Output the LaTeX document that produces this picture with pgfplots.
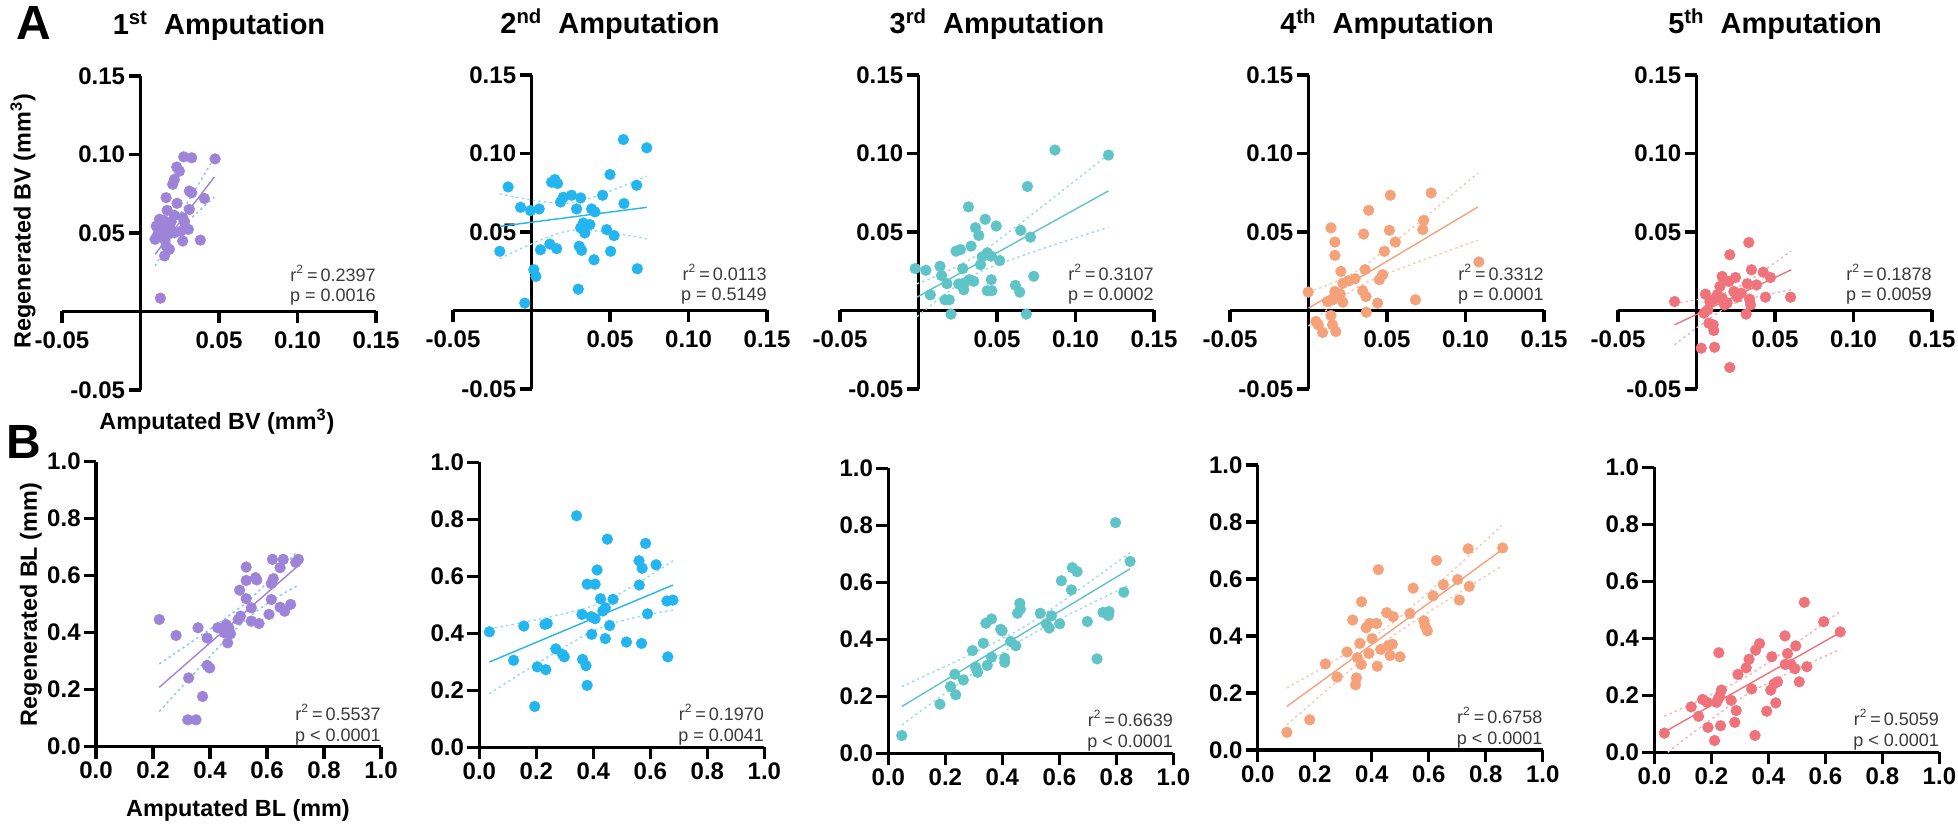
\documentclass[border=0pt]{standalone}
\usepackage{fontspec}
\setmainfont{Liberation Sans}
\usepackage{pgfplots}
\pgfplotsset{compat=1.18}

\definecolor{cpurple}{HTML}{9E84D8}
\definecolor{cblue}{HTML}{22B5F0}
\definecolor{cteal}{HTML}{5EC4C8}
\definecolor{corange}{HTML}{F5A27A}
\definecolor{cred}{HTML}{F0727A}
\definecolor{cilight}{HTML}{8CC4F2}
\definecolor{stat}{HTML}{3A3A3A}

\newcommand{\tickfont}{\fontsize{12}{14}\selectfont\bfseries}
\newcommand{\labfont}{\fontsize{11.7}{14}\selectfont\bfseries}
\newcommand{\ttlfont}{\fontsize{14.5}{17}\selectfont\bfseries}
\newcommand{\statfont}{\fontsize{9}{10}\selectfont}

\pgfplotsset{
  base/.style={
    scale only axis, clip=false, enlargelimits=false, anchor=south west,
    axis line style={line width=1.6pt},
    every inner x axis line/.append style={-},
    every inner y axis line/.append style={-},
    every outer x axis line/.append style={-},
    every outer y axis line/.append style={-},
    every tick/.append style={line width=1.6pt, black},
    major tick length=6pt, tick align=outside,
    tick label style={font=\tickfont},
    yticklabel style={inner sep=1.5pt},
  },
  top/.style={axis lines=middle, base,
    xmin=-0.05, xmax=0.15, ymin=-0.05, ymax=0.15, x=785pt, y=785pt,
    xtick={-0.05,0.05,0.1,0.15}, xticklabels={-0.05,0.05,0.10,0.15},
    ytick={-0.05,0.05,0.1,0.15}, yticklabels={-0.05,0.05,0.10,0.15},
    xticklabel style={inner sep=1pt, yshift=-3pt},
  },
  bot/.style={axis lines=left, base,
    xmin=0, xmax=1, ymin=0, ymax=1, x=142.5pt, y=142.5pt,
    xtick={0,0.2,0.4,0.6,0.8,1}, xticklabels={0.0,0.2,0.4,0.6,0.8,1.0},
    ytick={0,0.2,0.4,0.6,0.8,1}, yticklabels={0.0,0.2,0.4,0.6,0.8,1.0},
    xticklabel style={inner sep=1.5pt},
  },
  pts/.style={only marks, mark=*, mark size=2.7pt, color=#1, mark options={solid, draw=#1, fill=#1, line width=0.2pt}},
  fit/.style={no marks, line width=0.7pt, color=#1},
  ci/.style={no marks, smooth, line width=0.7pt, color=#1, dash pattern=on 1.2pt off 1.6pt},
}

\begin{document}
\begin{tikzpicture}
\path[use as bounding box] (0,0) rectangle (979pt,413pt);

% ---------- row A ----------
\begin{axis}[top, at={(31pt,218pt)}]
\addplot[pts=cpurple] coordinates {(0.0127,0.0085) (0.0275,0.0985) (0.0326,0.0979) (0.0475,0.0972) (0.0231,0.0920) (0.0248,0.0894) (0.0216,0.0841) (0.0205,0.0810) (0.0163,0.0725) (0.0311,0.0767) (0.0326,0.0756) (0.0407,0.0720) (0.0233,0.0689) (0.0170,0.0644) (0.0311,0.0650) (0.0121,0.0587) (0.0148,0.0580) (0.0269,0.0597) (0.0216,0.0612) (0.0100,0.0544) (0.0184,0.0540) (0.0280,0.0570) (0.0305,0.0523) (0.0258,0.0512) (0.0127,0.0502) (0.0174,0.0491) (0.0216,0.0502) (0.0093,0.0460) (0.0153,0.0460) (0.0269,0.0449) (0.0381,0.0455) (0.0163,0.0417) (0.0184,0.0396) (0.0153,0.0354) (0.0131,0.0523) (0.0110,0.0491) (0.0195,0.0570)};
\addplot[fit=cpurple] coordinates {(0.0093,0.0364) (0.047,0.0856)};
\addplot[ci=cilight] coordinates {(0.0093,0.044) (0.022,0.057) (0.047,0.098)};
\addplot[ci=cilight] coordinates {(0.0093,0.029) (0.022,0.049) (0.047,0.073)};
\node[anchor=base east, font=\statfont, text=stat, inner sep=0pt, yshift=15pt] at (0.15,0) {r\textsuperscript{2}\,=\,0.2397};
\node[anchor=base east, font=\statfont, text=stat, inner sep=0pt, yshift=5pt] at (0.15,0) {p = 0.0016};
\node[anchor=base, font=\ttlfont, inner sep=0pt, yshift=20.5pt] at (rel axis cs:0.5,1) {1\textsuperscript{st}\ \ Amputation};
\end{axis}

\begin{axis}[top, at={(226.5pt,218.5pt)}]
\addplot[pts=cblue] coordinates {(-0.0043,0.0047) (0.0298,0.0136) (0.0015,0.0260) (0.0028,0.0217) (0.0674,0.0266) (0.0398,0.0323) (-0.0202,0.0377) (0.0057,0.0387) (0.0117,0.0423) (0.0160,0.0394) (0.0304,0.0409) (0.0319,0.0383) (0.0504,0.0377) (0.0526,0.0477) (0.0479,0.0515) (0.0340,0.0494) (0.0313,0.0526) (0.0372,0.0547) (0.0330,0.0557) (-0.0070,0.0657) (-0.0006,0.0636) (0.0049,0.0647) (0.0287,0.0647) (0.0383,0.0647) (0.0404,0.0628) (0.0185,0.0691) (0.0202,0.0721) (0.0255,0.0734) (0.0313,0.0717) (0.0453,0.0734) (0.0589,0.0681) (-0.0149,0.0787) (0.0670,0.0798) (0.0128,0.0817) (0.0149,0.0834) (0.0166,0.0809) (0.0500,0.0866) (0.0585,0.1089) (0.0734,0.1036)};
\addplot[fit=cblue] coordinates {(-0.0202,0.0536) (0.0734,0.0657)};
\addplot[ci=cblue!50] coordinates {(-0.0202,0.0743) (0.025,0.0685) (0.0734,0.0855)};
\addplot[ci=cblue!50] coordinates {(-0.0202,0.0330) (0.025,0.0510) (0.0734,0.0457)};
\node[anchor=base east, font=\statfont, text=stat, inner sep=0pt, yshift=15pt] at (0.15,0) {r\textsuperscript{2}\,=\,0.0113};
\node[anchor=base east, font=\statfont, text=stat, inner sep=0pt, yshift=5pt] at (0.15,0) {p = 0.5149};
\node[anchor=base, font=\ttlfont, inner sep=0pt, yshift=20.5pt] at (rel axis cs:0.5,1) {2\textsuperscript{nd}\ \ Amputation};
\end{axis}

\begin{axis}[top, at={(420pt,218.5pt)}]
\addplot[pts=cteal] coordinates {(-0.0021,0.0267) (0.0047,0.0256) (0.0137,0.0282) (0.0147,0.0222) (0.0181,0.0171) (0.0075,0.0100) (0.0169,0.0068) (0.0196,0.0068) (0.0207,-0.0023) (0.0239,0.0378) (0.0267,0.0388) (0.0335,0.0410) (0.0282,0.0267) (0.0256,0.0169) (0.0292,0.0175) (0.0288,0.0132) (0.0324,0.0196) (0.0352,0.0186) (0.0318,0.0660) (0.0363,0.0527) (0.0384,0.0478) (0.0425,0.0581) (0.0406,0.0342) (0.0438,0.0367) (0.0463,0.0346) (0.0517,0.0318) (0.0495,0.0538) (0.0463,0.0196) (0.0438,0.0126) (0.0467,0.0126) (0.0617,0.0160) (0.0645,0.0117) (0.0651,0.0510) (0.0713,0.0467) (0.0734,0.0218) (0.0687,-0.0023) (0.0694,0.0790) (0.0869,0.1022) (0.1210,0.0990) (0.0395,0.0292)};
\addplot[fit=cteal] coordinates {(-0.001,0.0085) (0.121,0.0762)};
\addplot[ci=cteal!60] coordinates {(-0.001,0.017) (0.04,0.037) (0.121,0.0995)};
\addplot[ci=cteal!60] coordinates {(-0.001,-0.004) (0.04,0.025) (0.121,0.053)};
\node[anchor=base east, font=\statfont, text=stat, inner sep=0pt, yshift=15pt] at (0.15,0) {r\textsuperscript{2}\,=\,0.3107};
\node[anchor=base east, font=\statfont, text=stat, inner sep=0pt, yshift=5pt] at (0.15,0) {p = 0.0002};
\node[anchor=base, font=\ttlfont, inner sep=0pt, yshift=20.5pt] at (rel axis cs:0.5,1) {3\textsuperscript{rd}\ \ Amputation};
\end{axis}

\begin{axis}[top, at={(615pt,218.5pt)}]
\addplot[pts=corange] coordinates {(-0.0002,0.0117) (0.0121,0.0057) (0.0143,0.0526) (0.0168,0.0436) (0.0168,0.0351) (0.0206,0.0249) (0.0168,0.0121) (0.0185,0.0094) (0.0202,0.0104) (0.0153,0.0068) (0.0219,0.0053) (0.0219,0.0174) (0.0255,0.0189) (0.0296,0.0202) (0.0351,0.0487) (0.0360,0.0260) (0.0345,0.0126) (0.0366,0.0089) (0.0368,-0.0011) (0.0383,0.0638) (0.0440,0.0047) (0.0451,0.0196) (0.0472,0.0228) (0.0483,0.0377) (0.0515,0.0511) (0.0521,0.0734) (0.0553,0.0436) (0.0681,0.0068) (0.0728,0.0515) (0.0734,0.0574) (0.0781,0.0749) (0.1085,0.0309) (0.0047,-0.0070) (0.0062,-0.0091) (0.0090,-0.0140) (0.0143,-0.0032) (0.0153,-0.0091) (0.0174,-0.0134)};
\addplot[fit=corange] coordinates {(0,0.0015) (0.108,0.066)};
\addplot[ci=corange!60] coordinates {(0,0.012) (0.035,0.028) (0.108,0.0877)};
\addplot[ci=corange!60] coordinates {(0,-0.010) (0.035,0.017) (0.108,0.0447)};
\node[anchor=base east, font=\statfont, text=stat, inner sep=0pt, yshift=15pt] at (0.15,0) {r\textsuperscript{2}\,=\,0.3312};
\node[anchor=base east, font=\statfont, text=stat, inner sep=0pt, yshift=5pt] at (0.15,0) {p = 0.0001};
\node[anchor=base, font=\ttlfont, inner sep=0pt, yshift=20.5pt] at (rel axis cs:0.5,1) {4\textsuperscript{th}\ \ Amputation};
\end{axis}

\begin{axis}[top, at={(809pt,218.5pt)}]
\addplot[pts=cred] coordinates {(-0.0140,0.0057) (0.0057,0.0104) (0.0030,-0.0240) (0.0115,-0.0234) (0.0212,-0.0363) (0.0079,-0.0081) (0.0106,-0.0091) (0.0110,-0.0127) (0.0047,-0.0017) (0.0072,0.0004) (0.0085,0.0057) (0.0115,0.0072) (0.0132,0.0100) (0.0163,0.0079) (0.0178,0.0036) (0.0195,0.0047) (0.0149,0.0153) (0.0163,0.0217) (0.0206,0.0185) (0.0212,0.0355) (0.0248,0.0210) (0.0238,0.0121) (0.0259,0.0085) (0.0284,0.0110) (0.0316,-0.0023) (0.0338,0.0072) (0.0344,0.0036) (0.0323,0.0170) (0.0333,0.0433) (0.0350,0.0259) (0.0382,0.0163) (0.0425,0.0244) (0.0439,0.0085) (0.0471,0.0210) (0.0599,0.0085)};
\addplot[fit=cred] coordinates {(-0.014,-0.0091) (0.0603,0.0259)};
\addplot[ci=cred!55] coordinates {(-0.014,0.0047) (0.022,0.0125) (0.0603,0.038)};
\addplot[ci=cred!55] coordinates {(-0.014,-0.0219) (0.022,0.0035) (0.0603,0.0132)};
\node[anchor=base east, font=\statfont, text=stat, inner sep=0pt, yshift=15pt] at (0.15,0) {r\textsuperscript{2}\,=\,0.1878};
\node[anchor=base east, font=\statfont, text=stat, inner sep=0pt, yshift=5pt] at (0.15,0) {p = 0.0059};
\node[anchor=base, font=\ttlfont, inner sep=0pt, yshift=20.5pt] at (rel axis cs:0.5,1) {5\textsuperscript{th}\ \ Amputation};
\end{axis}

% ---------- row B ----------
\begin{axis}[bot, at={(48pt,39.7pt)}]
\addplot[pts=cpurple] coordinates {(0.222,0.446) (0.281,0.390) (0.358,0.417) (0.390,0.381) (0.325,0.241) (0.322,0.094) (0.351,0.094) (0.374,0.176) (0.390,0.285) (0.399,0.276) (0.427,0.417) (0.457,0.428) (0.451,0.399) (0.462,0.364) (0.472,0.396) (0.466,0.417) (0.499,0.446) (0.507,0.458) (0.504,0.549) (0.527,0.630) (0.527,0.583) (0.527,0.519) (0.545,0.487) (0.545,0.440) (0.560,0.593) (0.564,0.585) (0.572,0.432) (0.607,0.464) (0.615,0.516) (0.615,0.572) (0.622,0.589) (0.619,0.657) (0.646,0.628) (0.657,0.657) (0.646,0.489) (0.662,0.475) (0.683,0.499) (0.701,0.646) (0.710,0.657)};
\addplot[fit=cpurple] coordinates {(0.222,0.208) (0.704,0.630)};
\addplot[ci=cilight] coordinates {(0.222,0.290) (0.52,0.500) (0.704,0.683)};
\addplot[ci=cilight] coordinates {(0.222,0.123) (0.52,0.440) (0.704,0.563)};
\node[anchor=base east, font=\statfont, text=stat, inner sep=0pt, yshift=13.3pt] at (1,0) {r\textsuperscript{2}\,=\,0.5537};
\node[anchor=base east, font=\statfont, text=stat, inner sep=0pt, yshift=2.8pt] at (1,0) {p < 0.0001};
\end{axis}

\begin{axis}[bot, at={(239.7pt,39.4pt)}]
\addplot[pts=cblue] coordinates {(0.035,0.405) (0.120,0.305) (0.156,0.425) (0.194,0.143) (0.203,0.282) (0.230,0.431) (0.238,0.434) (0.233,0.272) (0.268,0.345) (0.292,0.325) (0.298,0.317) (0.341,0.812) (0.360,0.466) (0.362,0.308) (0.374,0.286) (0.378,0.217) (0.378,0.572) (0.406,0.572) (0.392,0.458) (0.406,0.451) (0.394,0.396) (0.413,0.622) (0.425,0.521) (0.433,0.478) (0.442,0.489) (0.442,0.381) (0.449,0.730) (0.457,0.427) (0.469,0.519) (0.516,0.369) (0.560,0.654) (0.561,0.569) (0.571,0.628) (0.569,0.364) (0.583,0.715) (0.590,0.468) (0.620,0.640) (0.658,0.513) (0.679,0.516) (0.661,0.317)};
\addplot[fit=cblue] coordinates {(0.035,0.299) (0.679,0.569)};
\addplot[ci=cblue!50] coordinates {(0.035,0.415) (0.41,0.500) (0.679,0.654)};
\addplot[ci=cblue!50] coordinates {(0.035,0.188) (0.41,0.413) (0.679,0.481)};
\node[anchor=base east, font=\statfont, text=stat, inner sep=0pt, yshift=13.3pt] at (1,0) {r\textsuperscript{2}\,=\,0.1970};
\node[anchor=base east, font=\statfont, text=stat, inner sep=0pt, yshift=2.8pt] at (1,0) {p = 0.0041};
\end{axis}

\begin{axis}[bot, at={(444.2pt,36.4pt)}]
\addplot[pts=cteal] coordinates {(0.047,0.062) (0.181,0.172) (0.218,0.234) (0.233,0.277) (0.236,0.205) (0.263,0.257) (0.295,0.360) (0.306,0.302) (0.313,0.284) (0.333,0.386) (0.342,0.456) (0.347,0.308) (0.362,0.337) (0.362,0.471) (0.394,0.435) (0.399,0.429) (0.408,0.333) (0.408,0.319) (0.429,0.392) (0.447,0.377) (0.453,0.491) (0.461,0.526) (0.463,0.506) (0.533,0.491) (0.554,0.454) (0.564,0.439) (0.572,0.482) (0.601,0.454) (0.607,0.605) (0.642,0.573) (0.645,0.651) (0.662,0.637) (0.698,0.462) (0.732,0.331) (0.753,0.494) (0.774,0.497) (0.772,0.483) (0.797,0.809) (0.826,0.565) (0.848,0.673)};
\addplot[fit=cteal] coordinates {(0.047,0.164) (0.848,0.647)};
\addplot[ci=cteal!60] coordinates {(0.047,0.234) (0.47,0.440) (0.848,0.704)};
\addplot[ci=cteal!60] coordinates {(0.047,0.099) (0.47,0.398) (0.848,0.591)};
\node[anchor=base east, font=\statfont, text=stat, inner sep=0pt, yshift=13.3pt] at (1,0) {r\textsuperscript{2}\,=\,0.6639};
\node[anchor=base east, font=\statfont, text=stat, inner sep=0pt, yshift=2.8pt] at (1,0) {p < 0.0001};
\end{axis}

\begin{axis}[bot, at={(628.9pt,38pt)}]
\addplot[pts=corange] coordinates {(0.102,0.062) (0.182,0.106) (0.237,0.302) (0.278,0.256) (0.313,0.344) (0.333,0.456) (0.343,0.229) (0.346,0.253) (0.349,0.324) (0.358,0.374) (0.363,0.300) (0.364,0.520) (0.380,0.429) (0.390,0.339) (0.392,0.444) (0.401,0.391) (0.417,0.444) (0.419,0.294) (0.423,0.633) (0.431,0.353) (0.452,0.482) (0.457,0.365) (0.464,0.332) (0.472,0.371) (0.475,0.468) (0.499,0.327) (0.534,0.479) (0.545,0.568) (0.583,0.453) (0.587,0.435) (0.595,0.418) (0.615,0.541) (0.627,0.665) (0.651,0.580) (0.701,0.598) (0.707,0.526) (0.738,0.706) (0.742,0.574) (0.859,0.709)};
\addplot[fit=corange] coordinates {(0.102,0.153) (0.856,0.702)};
\addplot[ci=corange!60] coordinates {(0.102,0.218) (0.46,0.436) (0.856,0.788)};
\addplot[ci=corange!60] coordinates {(0.102,0.088) (0.46,0.390) (0.856,0.645)};
\node[anchor=base east, font=\statfont, text=stat, inner sep=0pt, yshift=13.3pt] at (1,0) {r\textsuperscript{2}\,=\,0.6758};
\node[anchor=base east, font=\statfont, text=stat, inner sep=0pt, yshift=2.8pt] at (1,0) {p < 0.0001};
\end{axis}

\begin{axis}[bot, at={(827.2pt,36.9pt)}]
\addplot[pts=cred] coordinates {(0.035,0.067) (0.129,0.159) (0.155,0.126) (0.169,0.185) (0.185,0.175) (0.188,0.087) (0.211,0.041) (0.218,0.175) (0.224,0.187) (0.226,0.349) (0.229,0.196) (0.232,0.093) (0.235,0.218) (0.269,0.182) (0.282,0.105) (0.287,0.146) (0.293,0.273) (0.322,0.296) (0.332,0.326) (0.341,0.222) (0.353,0.059) (0.355,0.358) (0.369,0.381) (0.394,0.144) (0.408,0.218) (0.412,0.335) (0.420,0.240) (0.426,0.173) (0.432,0.247) (0.458,0.408) (0.459,0.308) (0.467,0.346) (0.479,0.308) (0.493,0.293) (0.496,0.373) (0.508,0.247) (0.526,0.526) (0.535,0.300) (0.594,0.458) (0.652,0.422)};
\addplot[fit=cred] coordinates {(0.035,0.071) (0.652,0.420)};
\addplot[ci=cred!55] coordinates {(0.035,0.126) (0.33,0.270) (0.652,0.494)};
\addplot[ci=cred!55] coordinates {(0.047,0.000) (0.33,0.206) (0.652,0.361)};
\node[anchor=base east, font=\statfont, text=stat, inner sep=0pt, yshift=13.3pt] at (1,0) {r\textsuperscript{2}\,=\,0.5059};
\node[anchor=base east, font=\statfont, text=stat, inner sep=0pt, yshift=2.8pt] at (1,0) {p < 0.0001};
\end{axis}

% ---------- panel letters and axis titles ----------
\node[anchor=base west, font=\fontsize{24}{28}\selectfont\bfseries, inner sep=0pt] at (8pt,393pt) {A};
\node[anchor=base west, font=\fontsize{24}{28}\selectfont\bfseries, inner sep=0pt] at (3pt,184pt) {B};
\node[rotate=90, font=\labfont, inner sep=0pt] at (11.5pt,302.5pt) {Regenerated BV (mm\textsuperscript{3})};
\node[font=\labfont, inner sep=0pt] at (108.5pt,202pt) {Amputated BV (mm\textsuperscript{3})};
\node[rotate=90, font=\labfont, inner sep=0pt] at (15.5pt,110.7pt) {Regenerated BL (mm)};
\node[font=\labfont, inner sep=0pt] at (119pt,8pt) {Amputated BL (mm)};
\end{tikzpicture}
\end{document}
